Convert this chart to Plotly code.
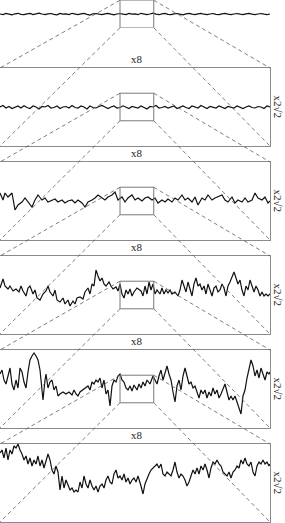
import plotly.graph_objects as go

# ---------------- data ----------------
# offsets measured downward from the top of each panel frame (panel height = 78 units)
panel0_off = [14, 14.6, 13.4, 14.2, 14.8, 13.8, 13.3, 14.3, 14.7, 13.9, 13.4, 14.6, 14.1, 13.2, 14.0, 14.7, 13.9,
              13.5, 14.4, 14.8, 13.4, 14.1, 13.8, 14.6, 13.3, 14.2, 14.7, 13.9, 13.4, 14.3, 15.0, 13.8, 13.5, 14.2,
              14.6, 13.9, 13.3, 14.1, 14.8, 14.0, 13.5, 14.2, 14.6, 13.4, 14.1, 13.9, 14.7, 13.3, 14.2, 14.6, 14.0,
              13.1, 14.1, 14.7, 13.8, 13.4, 14.3, 14.6, 13.9, 13.5, 14.2, 14.8, 13.9, 13.4, 14.1, 14.6, 13.8, 13.3,
              14.2, 14.7, 14.0, 13.5, 14.3, 14.6, 13.8, 13.4, 14.1, 14.7, 14.0, 13.5, 14.2, 14.6, 13.9, 13.3, 14.1,
              14.7, 14.0, 13.5, 14.2, 14.6, 14.0]

panel1_off = [39, 37.5, 40, 38.5, 40.5, 39, 38, 40, 37.8, 39.5, 40.5, 38, 39, 41, 38.5, 39, 37.5, 40, 39.5, 38,
              40.5, 39, 38.5, 40, 37.5, 39.5, 40, 38, 39, 41, 38, 39.5, 40, 38.5, 37.5, 39, 40.5, 39, 38, 40,
              39.5, 37.8, 39, 40.5, 38.5, 39, 40, 38, 39.5, 41, 38.5, 39, 37.5, 40, 39.5, 38.5, 40, 39, 38, 40.5,
              39, 38, 39.5, 40.5, 38, 39, 40, 37.5, 39, 40.5, 38.5, 39.5, 40, 38, 39, 40.5, 38.5, 39, 40, 38,
              39.5, 40.5, 39, 38, 39.5, 40, 38.5, 39, 40.5, 38, 39]

panel2_x = [0, 3, 5, 8, 12, 15, 18, 22, 25, 28, 32, 35, 38, 42, 45, 48, 52, 55, 58, 62, 65, 68, 72, 75, 78, 82, 85,
            88, 92, 95, 98, 102, 105, 108, 112, 115, 118, 122, 125, 128, 132, 135, 138, 142, 145, 148, 152, 155,
            158, 162, 165, 168, 172, 175, 178, 182, 185, 188, 192, 195, 198, 202, 205, 208, 212, 215, 218, 222,
            225, 228, 232, 235, 238, 242, 245, 248, 252, 255, 258, 262, 265, 268, 270]
panel2_off = [31, 38, 31, 35, 31, 48, 43, 40, 36, 40, 45, 38, 33, 38, 36, 40, 38, 37, 40, 38, 41, 39, 38, 41, 38,
              41, 45, 40, 38, 36, 33, 36, 38, 35, 33, 30, 38, 35, 40, 36, 33, 38, 36, 39, 36, 35, 38, 36, 41, 38,
              40, 37, 40, 36, 38, 33, 38, 36, 40, 35, 43, 36, 38, 33, 38, 36, 35, 33, 38, 40, 35, 41, 38, 40, 36,
              40, 38, 31, 36, 38, 35, 41, 39]

panel3_x = [0, 3, 5, 8, 10, 13, 16, 19, 21, 23, 26, 28, 30, 33, 35, 37, 40, 43, 46, 48, 50, 53, 55, 57, 60, 63, 65,
            68, 70, 73, 75, 77, 80, 83, 85, 88, 90, 92, 94, 96, 98, 100, 102, 104, 106, 109, 111, 113, 116, 118,
            120, 122, 124, 126, 128, 130, 132, 134, 137, 139, 141, 143, 145, 147, 149, 151, 153, 155, 157, 160,
            162, 164, 166, 168, 170, 172, 175, 178, 180, 182, 184, 186, 188, 190, 192, 194, 196, 198, 200, 202,
            204, 206, 208, 210, 212, 214, 216, 218, 220, 222, 224, 226, 228, 230, 232, 234, 236, 238, 240, 242,
            244, 246, 248, 250, 252, 254, 256, 258, 260, 262, 264, 266, 268, 270]
panel3_off = [32, 23, 30, 33, 30, 35, 33, 36, 30, 35, 40, 32, 30, 38, 34, 42, 44, 38, 35, 30, 36, 40, 34, 44, 46,
              42, 48, 44, 50, 45, 48, 42, 41, 43, 36, 32, 38, 28, 30, 14, 20, 25, 22, 28, 30, 26, 30, 33, 31, 35,
              28, 38, 42, 34, 38, 33, 40, 36, 32, 34, 35, 40, 30, 38, 26, 34, 28, 38, 34, 38, 32, 38, 34, 37, 34,
              38, 36, 40, 34, 24, 30, 36, 26, 34, 40, 28, 22, 30, 28, 34, 30, 38, 28, 34, 40, 32, 30, 36, 34, 28,
              32, 40, 30, 26, 20, 16, 22, 28, 24, 34, 40, 30, 34, 24, 30, 36, 30, 34, 40, 36, 40, 38, 40, 38]

panel4_x = [0, 2, 4, 6, 8, 10, 12, 14, 16, 18, 20, 22, 24, 26, 28, 30, 32, 34, 36, 38, 40, 42, 43, 45, 46, 48, 50,
            52, 54, 56, 58, 60, 63, 66, 69, 72, 74, 76, 78, 80, 83, 86, 88, 90, 92, 94, 96, 98, 100, 102, 104, 106,
            108, 110, 112, 114, 116, 118, 120, 122, 124, 126, 128, 130, 132, 134, 137, 139, 141, 143, 145, 147,
            150, 153, 155, 157, 159, 161, 163, 165, 167, 169, 171, 173, 175, 177, 179, 181, 183, 185, 187, 189,
            191, 193, 195, 197, 199, 201, 203, 205, 207, 209, 211, 213, 215, 217, 219, 221, 223, 225, 227, 229,
            231, 233, 235, 237, 239, 241, 243, 245, 247, 249, 251, 253, 255, 257, 259, 261, 263, 265, 267, 269, 270]
panel4_off = [24, 20, 30, 34, 26, 18, 34, 40, 30, 38, 18, 22, 32, 38, 22, 10, 6, 3, 6, 10, 20, 36, 50, 30, 24, 38,
              32, 30, 40, 36, 46, 44, 42, 44, 42, 45, 40, 44, 46, 42, 40, 38, 36, 40, 32, 34, 30, 32, 28, 38, 30,
              44, 40, 56, 36, 30, 32, 26, 24, 30, 32, 38, 40, 36, 41, 35, 40, 34, 38, 32, 36, 30, 34, 26, 30, 34,
              26, 20, 30, 22, 16, 24, 30, 42, 52, 36, 30, 40, 26, 18, 26, 34, 32, 38, 36, 42, 48, 40, 44, 40, 48,
              42, 46, 38, 44, 40, 48, 44, 38, 34, 42, 50, 46, 50, 46, 52, 56, 64, 46, 40, 28, 18, 10, 16, 26, 20,
              28, 18, 24, 30, 22, 24, 22]

panel5_x = [0, 2, 4, 6, 8, 10, 12, 14, 16, 18, 20, 22, 24, 26, 28, 30, 32, 34, 36, 38, 40, 42, 44, 46, 48, 50, 52,
            54, 56, 58, 60, 62, 64, 66, 68, 70, 72, 74, 76, 78, 80, 82, 84, 86, 88, 90, 92, 94, 96, 98, 100, 102,
            104, 106, 108, 110, 112, 114, 116, 118, 120, 122, 124, 126, 128, 130, 132, 134, 136, 138, 141, 143,
            145, 147, 149, 151, 153, 155, 157, 159, 161, 163, 165, 167, 169, 171, 173, 175, 177, 179, 181, 183,
            185, 187, 189, 191, 193, 195, 197, 199, 201, 203, 205, 207, 209, 211, 213, 215, 217, 219, 221, 223,
            225, 227, 229, 231, 233, 235, 237, 239, 241, 243, 245, 247, 249, 251, 253, 255, 257, 259, 261, 263,
            265, 267, 269, 270]
panel5_off = [9, 6, 14, 4, 16, 6, 10, 2, 4, 0, 6, 10, 16, 12, 20, 14, 22, 16, 20, 12, 22, 16, 24, 18, 10, 16, 26,
              30, 22, 28, 46, 32, 44, 36, 42, 46, 44, 48, 46, 48, 38, 44, 32, 40, 44, 36, 42, 46, 42, 48, 42, 40,
              44, 36, 32, 38, 40, 30, 26, 34, 32, 36, 30, 38, 34, 40, 36, 34, 38, 32, 42, 50, 40, 34, 30, 26, 24,
              22, 20, 24, 20, 30, 32, 28, 30, 32, 26, 18, 28, 34, 30, 32, 36, 42, 38, 32, 26, 30, 24, 30, 22, 26,
              20, 26, 34, 24, 18, 20, 16, 20, 22, 28, 30, 32, 28, 34, 28, 26, 22, 24, 16, 20, 14, 20, 22, 18, 28,
              32, 22, 18, 20, 16, 20, 18, 22, 20]

zoom_label = "x8"
scale_label = "x2\u221a2"

# ---------------- geometry ----------------
W, H = 285, 523
FRAME_W = 270
FRAME_H = 78
HALF = FRAME_H / 2
TOPS = [None, 68, 162, 256, 350, 444]
BOX_X = (120, 120 + FRAME_W / 8)
BOX_HALF = HALF / 2 ** 1.5
P0_CENTER = 14
SERIF = "Liberation Serif, Times New Roman, Times, serif"


def py(p):
    return 1 - p / H


def pxf(p):
    return p / W


series = [
    (None, panel0_off, P0_CENTER),
    (None, panel1_off, HALF),
    (panel2_x, panel2_off, HALF),
    (panel3_x, panel3_off, HALF),
    (panel4_x, panel4_off, HALF),
    (panel5_x, panel5_off, HALF),
]

fig = go.Figure()
layout = {}
centers = []
for k, (xs, offs, c) in enumerate(series):
    if xs is None:
        n = len(offs)
        xs = [i * FRAME_W / (n - 1) for i in range(n)]
    ys = [c - o for o in offs]
    sfx = "" if k == 0 else str(k + 1)
    fig.add_trace(go.Scatter(x=xs, y=ys, mode="lines", xaxis="x" + sfx, yaxis="y" + sfx,
                             line=dict(color="#111111", width=1.2), hoverinfo="skip", showlegend=False))
    if k == 0:
        ctr = P0_CENTER
        ydom = [py(ctr + BOX_HALF), min(1, py(ctr - BOX_HALF))]
        yr = [-BOX_HALF, BOX_HALF]
        frame = False
    else:
        ctr = TOPS[k] + HALF
        ydom = [py(TOPS[k] + FRAME_H), py(TOPS[k])]
        yr = [-HALF, HALF]
        frame = True
    centers.append(ctr)
    common = dict(showgrid=False, zeroline=False, showticklabels=False, ticks="",
                  showline=frame, mirror=frame, linecolor="#8a8a8a", linewidth=1, fixedrange=True)
    layout["xaxis" + sfx] = dict(domain=[0, pxf(FRAME_W)], range=[0, FRAME_W], anchor="y" + sfx, **common)
    layout["yaxis" + sfx] = dict(domain=ydom, range=yr, anchor="x" + sfx, **common)

shapes = []
annotations = []
for k in range(6):
    sfx = "" if k == 0 else str(k + 1)
    if k < 5:
        # zoom box
        shapes.append(dict(type="rect", xref="x" + sfx, yref="y" + sfx, x0=BOX_X[0], x1=BOX_X[1],
                           y0=-BOX_HALF, y1=BOX_HALF, line=dict(color="#7a7a7a", width=1)))
        # dashed connectors to next frame
        bt = py(centers[k] - BOX_HALF)
        bb = py(centers[k] + BOX_HALF)
        ft = py(TOPS[k + 1])
        fb = py(TOPS[k + 1] + FRAME_H)
        for bx, fx in ((BOX_X[0], 0), (BOX_X[1], FRAME_W)):
            for by, fy in ((bt, ft), (bb, fb)):
                shapes.append(dict(type="line", xref="paper", yref="paper",
                                   x0=pxf(bx), y0=by, x1=pxf(fx), y1=fy,
                                   line=dict(color="#5e5e5e", width=0.8, dash="4px,3px")))
    if k >= 1:
        annotations.append(dict(text=zoom_label, xref="paper", yref="paper", x=pxf(137), y=py(TOPS[k] - 1),
                                xanchor="center", yanchor="bottom", showarrow=False,
                                font=dict(family=SERIF, size=11, color="#222222")))
        annotations.append(dict(text=scale_label, xref="paper", yref="paper", x=pxf(277.5), y=py(centers[k]),
                                xanchor="center", yanchor="middle", showarrow=False, textangle=90,
                                font=dict(family=SERIF, size=11, color="#222222")))

fig.update_layout(width=W, height=H, margin=dict(l=0, r=0, t=0, b=0), paper_bgcolor="white",
                  plot_bgcolor="rgba(0,0,0,0)", showlegend=False, shapes=shapes, annotations=annotations,
                  font=dict(family=SERIF), **layout)
fig.write_html("out.html", config={"displayModeBar": False},
               post_script="document.body.style.margin='0';document.body.style.padding='0';"
                           "document.body.style.overflow='hidden';")
